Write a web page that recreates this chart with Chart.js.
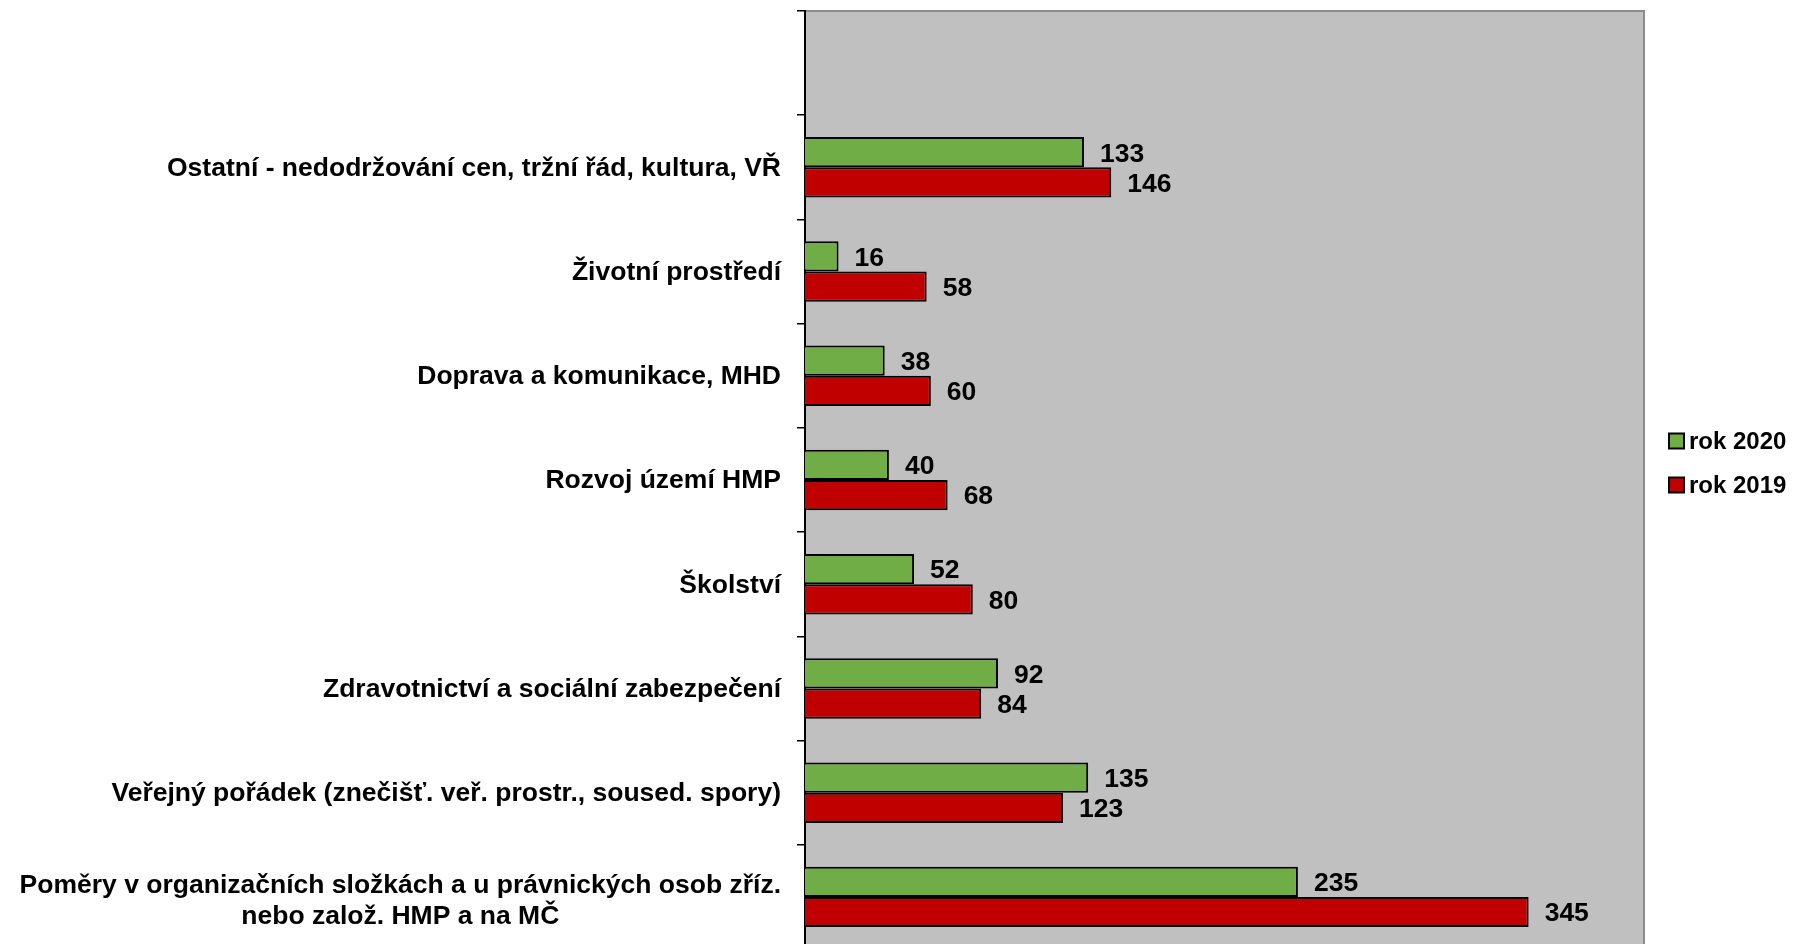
<!DOCTYPE html>
<html>
<head>
<meta charset="utf-8">
<script src="https://cdn.jsdelivr.net/npm/chart.js@4"></script>
<style>
  html, body { margin: 0; padding: 0; background: #fff; overflow: hidden; }
  #wrap { position: relative; width: 1793px; height: 950px; }
</style>
</head>
<body>
<div id="wrap"><canvas id="chart"></canvas></div>
<script>
// first slot stays empty, like in the original sheet
const categories = [
  '',
  'Ostatní - nedodržování cen, tržní řád, kultura, VŘ',
  'Životní prostředí',
  'Doprava a komunikace, MHD',
  'Rozvoj území HMP',
  'Školství',
  'Zdravotnictví a sociální zabezpečení',
  'Veřejný pořádek (znečišť. veř. prostr., soused. spory)',
  'Poměry v organizačních složkách a u právnických osob zříz.\nnebo založ. HMP a na MČ',
];
const values2020 = [null, 133, 16, 38, 40, 52, 92, 135, 235];
const values2019 = [null, 146, 58, 60, 68, 80, 84, 123, 345];

const FONT = '"Liberation Sans", Arial, sans-serif';

// grey plot background with a thin frame on top and right
const plotBackground = {
  id: 'plotBackground',
  beforeDraw(chart) {
    const { ctx, chartArea: a } = chart;
    ctx.save();
    ctx.fillStyle = '#c0c0c0';
    ctx.fillRect(a.left, a.top, a.right - a.left, a.bottom - a.top);
    ctx.strokeStyle = '#8c8c8c';
    ctx.lineWidth = 2;
    ctx.beginPath();
    ctx.moveTo(a.left, a.top);
    ctx.lineTo(a.right, a.top);
    ctx.lineTo(a.right, a.bottom + 5);
    ctx.stroke();
    ctx.restore();
  }
};

// category names: single lines right aligned, wrapped ones centred on each other
const categoryLabels = {
  id: 'categoryLabels',
  afterDraw(chart) {
    const { ctx } = chart;
    const scale = chart.scales.y;
    const right = scale.right - 24;
    ctx.save();
    ctx.font = 'bold 26.5px ' + FONT;
    ctx.fillStyle = '#000';
    ctx.textBaseline = 'middle';
    categories.forEach((name, i) => {
      if (!name) return;
      const lines = name.split('\n');
      const y = scale.getPixelForValue(i) + 1;
      const lh = 31;
      if (lines.length === 1) {
        ctx.textAlign = 'right';
        ctx.fillText(name, right, y);
      } else {
        const w = Math.max(...lines.map(l => ctx.measureText(l).width));
        ctx.textAlign = 'center';
        lines.forEach((l, k) => {
          ctx.fillText(l, right - w / 2, y + 3 + (k - (lines.length - 1) / 2) * lh);
        });
      }
    });
    ctx.restore();
  }
};

// value next to the end of each bar
const barValues = {
  id: 'barValues',
  afterDatasetsDraw(chart) {
    const { ctx } = chart;
    ctx.save();
    ctx.font = 'bold 26.5px ' + FONT;
    ctx.fillStyle = '#000';
    ctx.textAlign = 'left';
    ctx.textBaseline = 'middle';
    chart.data.datasets.forEach((ds, di) => {
      chart.getDatasetMeta(di).data.forEach((bar, i) => {
        const v = ds.data[i];
        if (v == null) return;
        ctx.fillText(String(v), bar.x + 16, bar.y + 2);
      });
    });
    ctx.restore();
  }
};

// legend to the right of the plot, one row per series
const sideLegend = {
  id: 'sideLegend',
  afterDraw(chart) {
    const { ctx, chartArea: a } = chart;
    const x = a.right + 25;
    const top = 441;
    const step = 44;
    ctx.save();
    ctx.font = 'bold 24px ' + FONT;
    ctx.textAlign = 'left';
    ctx.textBaseline = 'middle';
    chart.data.datasets.forEach((ds, i) => {
      const y = top + i * step;
      ctx.fillStyle = ds.backgroundColor;
      ctx.fillRect(x, y - 7.5, 15, 15);
      ctx.strokeStyle = '#000';
      ctx.lineWidth = 2;
      ctx.strokeRect(x, y - 7.5, 15, 15);
      ctx.fillStyle = '#000';
      ctx.fillText(ds.label, x + 20, y + 1);
    });
    ctx.restore();
  }
};

new Chart(document.getElementById('chart'), {
  type: 'bar',
  data: {
    labels: categories,
    datasets: [
      {
        label: 'rok 2020',
        data: values2020,
        backgroundColor: '#70ad47',
        borderColor: '#000',
        borderWidth: 2,
      },
      {
        label: 'rok 2019',
        data: values2019,
        backgroundColor: '#c00000',
        borderColor: '#000',
        borderWidth: 2,
      },
    ],
  },
  options: {
    indexAxis: 'y',
    responsive: true,
    maintainAspectRatio: false,
    animation: false,
    categoryPercentage: 0.58,
    barPercentage: 1.0,
    layout: { padding: { top: 11, bottom: 1, right: 149, left: 0 } },
    scales: {
      x: { display: false, min: 0, max: 400 },
      y: {
        afterFit: (scale) => { scale.width = 805; },
        ticks: { display: false },
        grid: {
          drawOnChartArea: false,
          drawTicks: true,
          tickLength: 8,
          color: '#000',
          lineWidth: 1.5,
        },
        border: { color: '#000', width: 2 },
      },
    },
    plugins: {
      legend: { display: false },
      tooltip: { enabled: false },
    },
  },
  plugins: [plotBackground, categoryLabels, barValues, sideLegend],
});
</script>
</body>
</html>
